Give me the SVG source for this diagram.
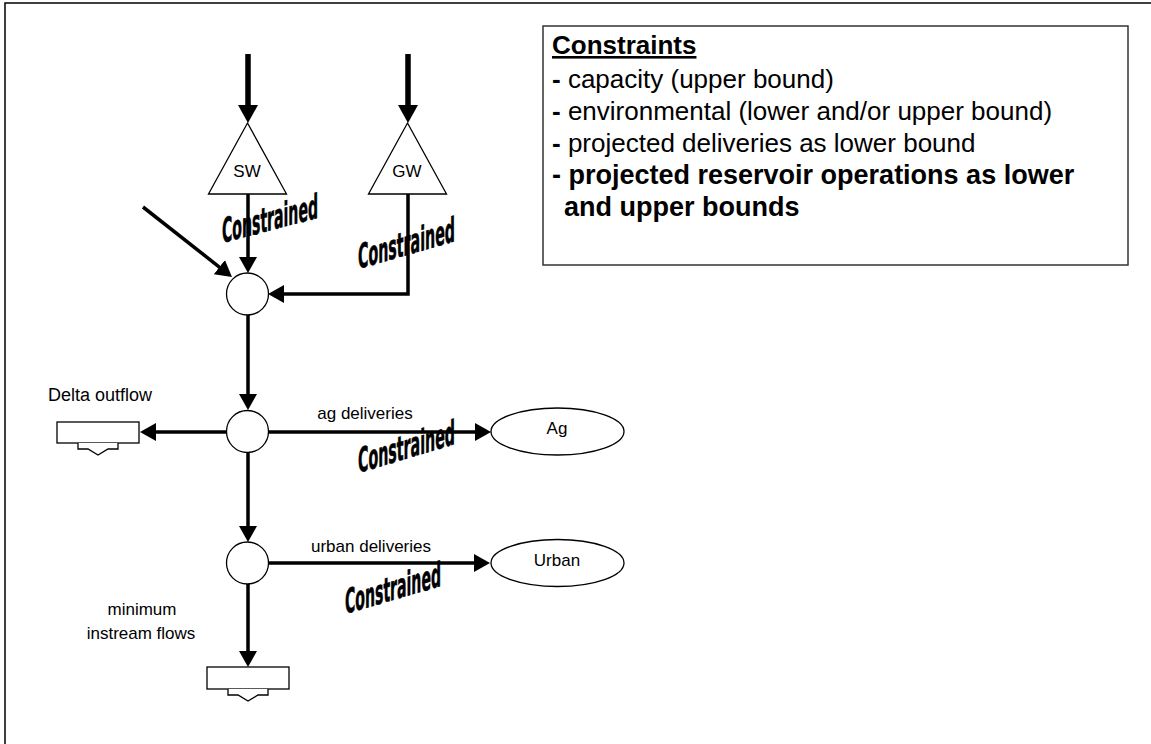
<svg xmlns="http://www.w3.org/2000/svg" width="1151" height="744" viewBox="0 0 1151 744">
  <style>
    text { font-family: "Liberation Sans", Arial, sans-serif; fill: #000; }
    .lbl { font-size: 17px; }
    .node { fill: #fff; stroke: #000; stroke-width: 1.3; }
    .tab { fill: #fff; stroke: #000; stroke-width: 1.3; stroke-linejoin: miter; }
    .flow { fill: none; stroke: #000; stroke-width: 3.5; marker-end: url(#head); }
    .inflow { fill: none; stroke: #000; stroke-width: 5.5; marker-end: url(#bighead); }
    .cons { font-family: "Liberation Sans Narrow", "DejaVu Sans Condensed", "Liberation Sans", sans-serif; font-weight: bold; font-size: 34px; stroke: #000; stroke-width: 0.6; }
    .box { font-size: 26px; }
    .b { font-weight: bold; }
    .bb { font-weight: bold; font-size: 27px; }
  </style>
  <defs>
    <marker id="head" markerUnits="userSpaceOnUse" markerWidth="20" markerHeight="20" refX="6" refY="9" orient="auto">
      <path d="M0,0 L16,9 L0,18 z" fill="#000"/>
    </marker>
    <marker id="bighead" markerUnits="userSpaceOnUse" markerWidth="22" markerHeight="22" refX="6" refY="10" orient="auto">
      <path d="M0,0 L18,10 L0,20 z" fill="#000"/>
    </marker>
  </defs>

  <!-- page frame -->
  <rect x="5" y="3" width="1200" height="800" fill="#fff" stroke="#000" stroke-width="1.5"/>

  <!-- connectors -->
  <g id="connectors">
    <path class="inflow" d="M248,54 V111"/>
    <path class="inflow" d="M408,54 V111"/>
    <path class="flow" d="M248,194 V263"/>
    <path class="flow" d="M408,194 V294 H278"/>
    <path class="flow" d="M143,207 L224.1,270.8"/>
    <path class="flow" d="M248,315 V400"/>
    <path class="flow" d="M226.5,432 H150"/>
    <path class="flow" d="M268.5,432 H481"/>
    <path class="flow" d="M248,452 V532"/>
    <path class="flow" d="M268.5,563 H480"/>
    <path class="flow" d="M248,584 V657"/>
  </g>

  <!-- sources -->
  <g id="sw">
    <polygon class="node" points="247.5,123 286.5,194 208.5,194"/>
    <text class="lbl" x="247" y="177" text-anchor="middle">SW</text>
  </g>
  <g id="gw">
    <polygon class="node" points="407.5,123 446.5,194 368.5,194"/>
    <text class="lbl" x="407" y="177" text-anchor="middle">GW</text>
  </g>

  <!-- junctions -->
  <g id="junction-1"><circle class="node" cx="247.5" cy="294" r="21"/></g>
  <g id="junction-2"><circle class="node" cx="247.5" cy="431.5" r="21"/></g>
  <g id="junction-3"><circle class="node" cx="247.5" cy="563" r="21"/></g>

  <!-- demands -->
  <g id="ag">
    <ellipse class="node" cx="557.5" cy="431.5" rx="66.5" ry="23.5"/>
    <text class="lbl" x="557" y="434" text-anchor="middle">Ag</text>
  </g>
  <g id="urban">
    <ellipse class="node" cx="557.5" cy="563" rx="66.5" ry="23.5"/>
    <text class="lbl" x="557" y="566" text-anchor="middle">Urban</text>
  </g>

  <!-- outflow sinks -->
  <g id="delta-outflow">
    <rect class="node" x="57" y="422" width="82" height="21"/>
    <path class="tab" d="M78,443 V449 H88 L98,455 L108,449 H118 V443"/>
    <text class="lbl" x="100" y="401" text-anchor="middle" style="font-size:18px">Delta outflow</text>
  </g>
  <g id="instream">
    <rect class="node" x="207" y="667" width="82" height="22"/>
    <path class="tab" d="M228,689 V695 H238 L248,701 L258,695 H268 V689"/>
    <text class="lbl" x="142" y="615" text-anchor="middle">minimum</text>
    <text class="lbl" x="141" y="639" text-anchor="middle">instream flows</text>
  </g>

  <!-- flow labels -->
  <g id="flow-labels">
    <text class="lbl" x="365" y="419" text-anchor="middle">ag deliveries</text>
    <text class="lbl" x="371" y="552" text-anchor="middle">urban deliveries</text>
    <text class="cons" transform="translate(222,243) skewY(-14.7)" textLength="96" lengthAdjust="spacingAndGlyphs">Constrained</text>
    <text class="cons" transform="translate(358,269) skewY(-16)" textLength="97" lengthAdjust="spacingAndGlyphs">Constrained</text>
    <text class="cons" transform="translate(358,473) skewY(-16.6)" textLength="97" lengthAdjust="spacingAndGlyphs">Constrained</text>
    <text class="cons" transform="translate(345,614) skewY(-16.3)" textLength="96" lengthAdjust="spacingAndGlyphs">Constrained</text>
  </g>

  <!-- constraints legend -->
  <g id="constraints">
    <rect x="543" y="26" width="585" height="239" fill="#fff" stroke="#333" stroke-width="1.5"/>
    <text class="box b" x="552" y="54" text-decoration="underline">Constraints</text>
    <text class="box" x="552" y="88"><tspan class="b">-</tspan> capacity (upper bound)</text>
    <text class="box" x="552" y="120"><tspan class="b">-</tspan> environmental (lower and/or upper bound)</text>
    <text class="box" x="552" y="152"><tspan class="b">-</tspan> projected deliveries as lower bound</text>
    <text class="bb" x="552" y="184">- projected reservoir operations as lower</text>
    <text class="bb" x="564" y="216">and upper bounds</text>
  </g>
</svg>
